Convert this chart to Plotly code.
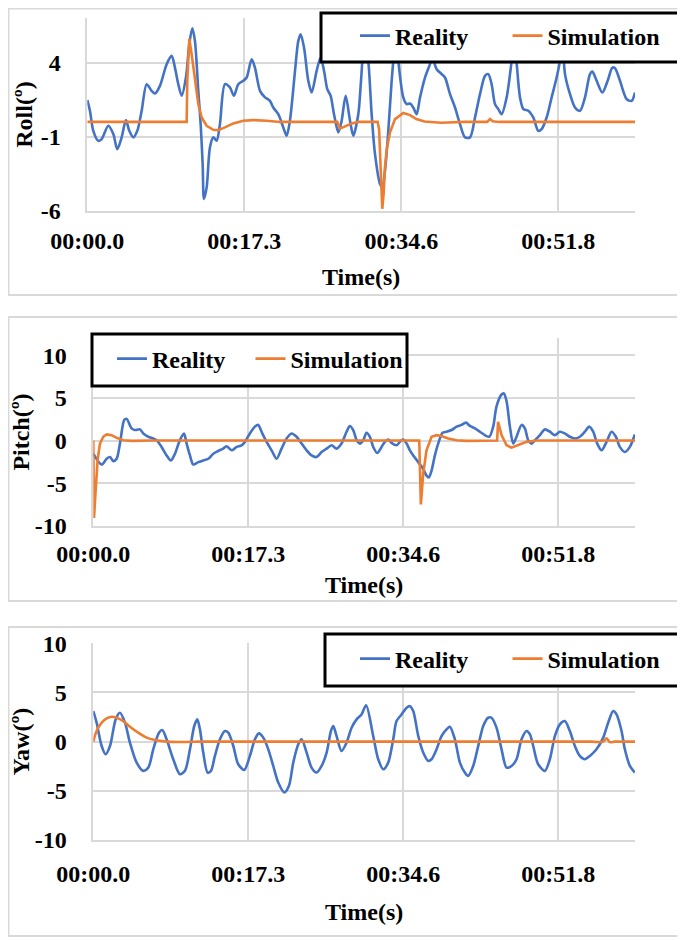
import plotly.graph_objects as go

# The page body adds an 8px offset, so the figure is laid out in page pixels minus 8.
OFF = 8
W, H = 677, 933


def px(x):
    return (x - OFF) / W


def py(y):
    return 1 - (y - OFF) / H


# ---------------- data ----------------
time_ticks = [0, 17.27, 34.55, 51.82]
time_labels = ["00:00.0", "00:17.3", "00:34.6", "00:51.8"]

roll_ticks = [-6, -1, 4]
roll_labels = ["-6", "-1", "4"]
pr_ticks = [-10, -5, 0, 5, 10]
pr_labels = ["-10", "-5", "0", "5", "10"]

roll_real_t = [0.00, 0.29, 0.66, 1.21, 1.58, 2.31, 2.86, 3.30, 3.78, 4.25,
               4.62, 5.06, 5.50, 5.98, 6.53, 7.08, 7.44, 7.99, 8.73, 9.28,
               9.64, 10.01, 10.38, 10.85, 11.22, 11.55, 11.84, 12.21, 12.47, 12.69,
               12.83, 13.13, 13.49, 13.86, 14.23, 14.59, 15.14, 15.69, 16.13, 16.61,
               17.16, 17.53, 18.08, 18.44, 19.00, 19.55, 20.09, 20.46, 21.01, 21.56,
               21.93, 22.29, 22.85, 23.21, 23.47, 23.84, 24.31, 24.68, 25.23, 25.67,
               26.04, 26.40, 26.77, 27.14, 27.61, 27.98, 28.42, 28.90, 29.26, 29.81,
               30.11, 30.50, 30.91, 31.28, 31.65, 32.20, 32.45, 32.75, 33.11, 33.48,
               33.66, 33.90, 34.21, 34.76, 35.13, 35.50, 35.86, 36.23, 36.60, 37.15,
               37.70, 37.95, 38.43, 38.98, 39.35, 39.90, 40.45, 41.00, 41.55, 42.10,
               42.65, 43.20, 43.75, 44.11, 44.48, 44.85, 45.21, 45.58, 46.13, 46.68,
               46.97, 47.24, 47.60, 47.97, 48.51, 49.06, 49.61, 49.98, 50.53, 51.08,
               51.63, 52.00, 52.25, 52.55, 53.10, 53.65, 54.20, 54.75, 55.30, 55.56,
               56.03, 56.66, 57.24, 57.76, 58.05, 58.60, 59.34, 59.88, 60.25]
roll_real = [1.47, 0.75, -0.60, -1.27, -1.16, -0.26, -0.82, -1.83, -1.04, 0.12,
             -0.60, -1.04, -0.60, 0.75, 2.54, 2.09, 1.91, 2.43, 3.89, 4.45,
             3.66, 2.54, 1.76, 2.99, 5.23, 6.31, 5.46, 2.09, -0.15, -2.84,
             -5.19, -4.41, -1.72, -1.04, -1.27, -0.15, 2.54, 2.32, 1.76, 2.54,
             2.77, 2.99, 4.22, 3.66, 2.09, 1.65, 1.42, 0.97, 0.52, -0.37,
             -0.93, 0.08, 3.44, 5.46, 5.91, 5.01, 2.77, 1.98, 3.44, 4.34,
             3.44, 2.21, 1.76, 0.52, -0.71, 0.08, 1.76, 0.08, -0.93, 0.52,
             2.77, 5.8, 4.11, 0.52, -2.17, -4.18, -4.40, -3.28, -0.60, 2.77,
             4.11, 6.3, 4.11, 1.65, 1.20, 1.24, 0.97, 0.52, 1.65, 2.99,
             3.89, 4.3, 3.55, 3.22, 2.99, 1.87, 0.97, -0.15, -1.04, -1.04,
             0.30, 1.87, 3.10, 3.22, 2.54, 1.20, 0.86, 0.52, 1.65, 4.11,
             5.6, 3.89, 1.65, 0.86, 0.75, 0.30, -0.60, -0.48, 0.30, 1.65,
             2.99, 4.11, 5.3, 3.22, 1.87, 0.97, 0.75, 1.65, 3.22, 3.39,
             2.77, 1.98, 2.77, 3.66, 3.62, 2.77, 1.53, 1.42, 1.98]

roll_sim_t = [0, 10.93, 11.0, 11.22, 11.48, 11.84, 12.21, 12.58, 13.13, 13.86,
              14.41, 15.14, 16.06, 17.16, 18.26, 19.73, 21.20, 27.5, 27.8, 28.35,
              29.1, 29.8, 31.94, 32.1, 32.3, 32.45, 32.6, 32.75, 32.95, 33.3,
              33.85, 34.76, 35.5, 36.2, 37.1, 38.9, 41.5, 44.0, 44.3, 44.6,
              45.3, 60.25]
roll_sim = [0, 0, 2.8, 5.6, 4.56, 2.77, 1.20, 0.30, -0.26, -0.53,
            -0.55, -0.37, -0.10, 0.08, 0.12, 0.08, 0.0, 0.0, -0.45, -0.3,
            -0.1, 0, 0, -0.5, -3.5, -5.85, -4.8, -3.0, -1.8, -0.7,
            0.19, 0.6, 0.46, 0.19, 0.03, -0.06, 0, 0, 0.2, 0.05,
            0, 0]

pitch_real_t = [0.00, 0.93, 1.49, 1.86, 2.23, 2.60, 2.97, 3.45, 3.71, 4.27,
                4.64, 5.20, 5.57, 6.13, 6.68, 7.06, 7.61, 8.17, 8.65, 9.10,
                9.65, 10.10, 10.40, 10.77, 11.14, 11.70, 12.25, 12.81, 13.37, 13.92,
                14.48, 14.85, 15.41, 15.97, 16.52, 16.90, 17.45, 18.01, 18.38, 18.75,
                19.31, 19.87, 20.42, 20.98, 21.54, 22.09, 22.65, 23.21, 23.77, 24.32,
                24.88, 25.44, 26.00, 26.55, 27.11, 27.66, 28.22, 28.59, 28.96, 29.34,
                29.71, 30.08, 30.45, 30.82, 31.19, 31.64, 32.12, 32.49, 32.86, 33.23,
                33.79, 34.16, 34.53, 34.91, 35.28, 35.65, 36.21, 36.76, 37.13, 37.39,
                37.69, 38.06, 38.43, 38.92, 39.36, 39.92, 40.48, 41.04, 41.52, 41.96,
                42.52, 43.08, 43.63, 44.12, 44.56, 44.93, 45.49, 45.75, 46.05, 46.42,
                46.79, 47.16, 47.72, 48.09, 48.46, 48.84, 49.21, 49.76, 50.32, 50.88,
                51.43, 51.99, 52.54, 53.10, 53.66, 54.22, 54.77, 55.26, 55.70, 56.15,
                56.63, 57.19, 57.75, 58.23, 58.67, 59.23, 59.79, 60.34]
pitch_real = [-1.55, -2.82, -2.14, -1.94, -2.42, -2.14, -0.36, 2.42, 2.54, 1.43,
              1.23, 1.31, 0.83, 0.44, 0.24, 0.04, -0.75, -1.75, -2.34, -1.55,
              0.04, 0.83, -0.36, -1.75, -2.82, -2.54, -2.34, -2.14, -1.55, -1.23,
              -0.95, -0.67, -1.15, -0.75, -0.56, -0.16, 0.83, 1.63, 1.83, 1.03,
              -0.16, -1.15, -2.14, -0.95, 0.24, 0.83, 0.44, -0.36, -1.15, -1.75,
              -1.94, -1.35, -0.95, -0.56, -0.95, -0.36, 1.03, 1.71, 1.23, 0.04,
              -0.36, 0.04, 0.91, 0.44, -0.75, -1.47, -0.75, -0.16, 0.12, -0.28,
              -0.56, -0.16, 0.12, -0.36, -1.15, -1.75, -2.54, -3.33, -4.13, -4.33,
              -3.53, -1.75, -0.36, 0.91, 1.03, 1.23, 1.63, 1.83, 2.10, 1.71,
              1.43, 1.03, 0.63, 0.44, 1.63, 4.01, 5.40, 5.52, 4.60, 1.63,
              -0.36, 0.44, 1.83, 1.43, 0.04, -0.36, 0.04, 0.63, 1.31, 1.03,
              0.63, 1.03, 0.83, 0.44, 0.24, 0.44, 1.03, 1.63, 1.03, -0.36,
              -1.15, -0.16, 1.03, 0.44, -0.75, -1.35, -0.75, 0.71]

pitch_sim_t = [0, 0.08, 0.26, 0.48, 0.74, 1.11, 1.49, 2.04, 2.6, 3.34,
               4.27, 6.5, 36.32, 36.5, 36.76, 37.13, 37.69, 38.25, 38.8, 39.55,
               40.48, 41.6, 45.0, 45.1, 45.49, 46.05, 46.6, 47.35, 48.27, 49.39,
               60.36]
pitch_sim = [0, -9.1, -5.9, -2.3, -0.36, 0.44, 0.71, 0.63, 0.32, 0.04,
             -0.04, 0, 0, -7.5, -3.9, -1.15, 0.44, 0.63, 0.52, 0.24,
             0.04, -0.04, 0, 2.2, 0.63, -0.56, -0.83, -0.56, -0.16, 0,
             0]

yaw_real_t = [0.00, 0.37, 0.93, 1.37, 1.86, 2.49, 2.97, 3.53, 4.08, 4.83,
              5.57, 6.13, 6.68, 7.32, 7.69, 8.17, 8.91, 9.65, 10.21, 10.77,
              11.25, 11.59, 11.88, 12.25, 12.74, 13.11, 13.55, 14.11, 14.67, 15.04,
              15.60, 16.15, 16.82, 17.45, 18.01, 18.46, 18.94, 19.50, 20.05, 20.61,
              21.28, 21.80, 22.28, 22.84, 23.21, 23.77, 24.32, 24.88, 25.44, 26.00,
              26.48, 26.74, 27.11, 27.66, 28.22, 28.78, 29.34, 29.89, 30.40,
              31.19, 31.75, 32.31, 32.86, 33.42, 33.79, 34.35, 34.91, 35.28, 35.65,
              36.21, 36.76, 37.32, 37.69, 38.25, 38.80, 39.36, 39.73, 40.29, 40.85,
              41.40, 41.77, 42.33, 42.89, 43.45, 44.00, 44.37, 44.93, 45.49, 46.05,
              46.60, 47.16, 47.72, 48.27, 48.65, 49.02, 49.57, 50.32, 50.87, 51.43,
              51.99, 52.54, 53.10, 53.66, 54.21, 54.77, 55.33, 56.07, 56.82, 57.37,
              57.93, 58.30, 58.86, 59.23, 59.79, 60.34]
yaw_real = [3.11, 1.93, -0.44, -1.28, -0.44, 2.26, 2.94, 1.93, -0.10, -2.13,
            -2.97, -2.64, -0.78, 0.91, 1.18, 0.24, -1.79, -3.31, -2.97, -0.78,
            1.59, 2.26, 1.25, -1.11, -3.14, -2.97, -1.45, 0.24, 1.08, 0.91,
            -0.44, -2.30, -2.87, -1.45, 0.24, 0.84, 0.41, -0.78, -2.47, -4.16,
            -5.17, -4.49, -2.13, -0.27, 0.24, -1.11, -2.64, -3.14, -2.47, -1.11,
            1.08, 1.59, 0.57, -0.95, -0.10, 1.42, 2.26, 2.77, 3.7,
            0.57, -1.79, -2.80, -2.13, 0.24, 2.09, 2.77, 3.45, 3.61, 3.11,
            0.57, -1.11, -1.96, -1.79, -0.78, 0.57, 1.25, 1.52, 0.24, -2.13,
            -3.14, -3.48, -2.47, -0.44, 1.59, 2.43, 2.43, 1.42, -0.78, -2.64,
            -2.47, -1.79, 0.24, 1.08, 0.74, -0.44, -2.30, -2.97, -1.79, 0.57,
            1.76, 2.09, 1.08, -0.44, -1.45, -1.79, -1.45, -0.78, 0.41, 1.93,
            3.11, 2.77, 1.08, -0.78, -2.47, -3.14]

yaw_sim_t = [0, 0.37, 0.93, 1.49, 2.04, 2.6, 3.34, 4.08, 5.01, 5.94,
             6.87, 7.98, 9.47, 12.07, 13.5, 55.5, 56.8, 57.19, 57.56, 58.1,
             59.0, 60.36]
yaw_sim = [0, 1.08, 1.93, 2.36, 2.53, 2.43, 2.09, 1.52, 0.91, 0.41,
           0.17, 0.03, -0.03, 0, 0, 0, 0, 0.34, -0.05, 0,
           0, 0]

# ---------------- style ----------------
BLUE = "#4472C4"
ORANGE = "#ED7D31"
GRID = "#d9d9d9"
FONT = dict(family="Liberation Serif", size=24, color="black", weight="bold")

fig = go.Figure()

panels = [
    ("", "y", "legend", roll_real_t, roll_real, roll_sim_t, roll_sim, "linear", 107.5),
    ("2", "y2", "legend2", pitch_real_t, pitch_real, pitch_sim_t, pitch_sim, "linear", 93.5),
    ("3", "y3", "legend3", yaw_real_t, yaw_real, yaw_sim_t, yaw_sim, "spline", 107.5),
]
for sfx, ya, leg, rt, rv, st, sv, sshape, lw in panels:
    fig.add_trace(go.Scatter(x=rt, y=rv, name="Reality", mode="lines",
                             line=dict(color=BLUE, width=2.6, shape="spline", smoothing=0.8),
                             xaxis="x" + sfx, yaxis=ya, legend=leg, legendwidth=lw))
    fig.add_trace(go.Scatter(x=st, y=sv, name="Simulation", mode="lines",
                             line=dict(color=ORANGE, width=2.6, shape=sshape),
                             xaxis="x" + sfx, yaxis=ya, legend=leg, legendwidth=118))


def xaxis(domain, anchor, rng, ticklen, standoff):
    return dict(domain=domain, anchor=anchor, range=rng,
                tickmode="array", tickvals=time_ticks, ticktext=time_labels,
                showgrid=True, gridcolor=GRID, gridwidth=1.5, zeroline=False,
                showline=True, linecolor=GRID, linewidth=1.5,
                ticks="outside", ticklen=ticklen, tickcolor="rgba(0,0,0,0)",
                tickfont=FONT, automargin=False,
                title=dict(text="Time(s)", font=FONT, standoff=standoff))


def yaxis(domain, anchor, rng, vals, labels, title, standoff, ticklen):
    return dict(domain=domain, anchor=anchor, range=rng,
                tickmode="array", tickvals=vals, ticktext=labels,
                showgrid=True, gridcolor=GRID, gridwidth=1.5, zeroline=False,
                showline=True, linecolor=GRID, linewidth=1.5,
                ticks="outside", ticklen=ticklen, tickcolor="rgba(0,0,0,0)",
                tickfont=FONT, automargin=False,
                title=dict(text=title, font=FONT, standoff=standoff))


LEG = dict(orientation="h", xanchor="left", yanchor="top",
           bgcolor="rgba(0,0,0,0)", borderwidth=0, font=FONT,
           itemwidth=30, tracegroupgap=0)

fig.update_layout(
    width=W, height=H,
    margin=dict(l=0, r=0, t=0, b=0, pad=0, autoexpand=False),
    paper_bgcolor="white", plot_bgcolor="white",
    showlegend=True,
    xaxis=xaxis([px(87.3), px(635)], "y", [0, 60.25], 7.5, 15.5),
    yaxis=yaxis([py(211), py(18)], "x", [-6, 7], roll_ticks, roll_labels, "Roll(º)", 1, 20),
    xaxis2=xaxis([px(93.3), px(635)], "y2", [0, 60.36], 5.5, 10),
    yaxis2=yaxis([py(525.7), py(338.3)], "x2", [-10, 12], pr_ticks, pr_labels, "Pitch(º)", 1, 20),
    xaxis3=xaxis([px(93.3), px(635)], "y3", [0, 60.36], 11, 17.5),
    yaxis3=yaxis([py(840), py(643.3)], "x3", [-10, 10], pr_ticks, pr_labels, "Yaw(º)", 1, 20),
    legend=dict(LEG, x=px(355), y=py(13.5)),
    legend2=dict(LEG, x=px(112), y=py(336.5)),
    legend3=dict(LEG, x=px(355), y=py(636.5)),
)

shapes = []
# panel frames
for y0, y1 in [(8.5, 295), (317, 601), (627, 936)]:
    shapes.append(dict(type="rect", xref="paper", yref="paper",
                       x0=px(8.5), x1=px(681), y0=py(y1), y1=py(y0),
                       line=dict(color=GRID, width=2), fillcolor="rgba(0,0,0,0)",
                       layer="below"))
# legend boxes
for x0, x1, y0, y1 in [(321, 680, 13, 62), (92, 407, 334, 386), (325, 680, 634, 686)]:
    shapes.append(dict(type="rect", xref="paper", yref="paper",
                       x0=px(x0), x1=px(x1), y0=py(y1), y1=py(y0),
                       line=dict(color="black", width=3), fillcolor="white",
                       layer="above"))
fig.update_layout(shapes=shapes)

fig.write_html("out.html")
